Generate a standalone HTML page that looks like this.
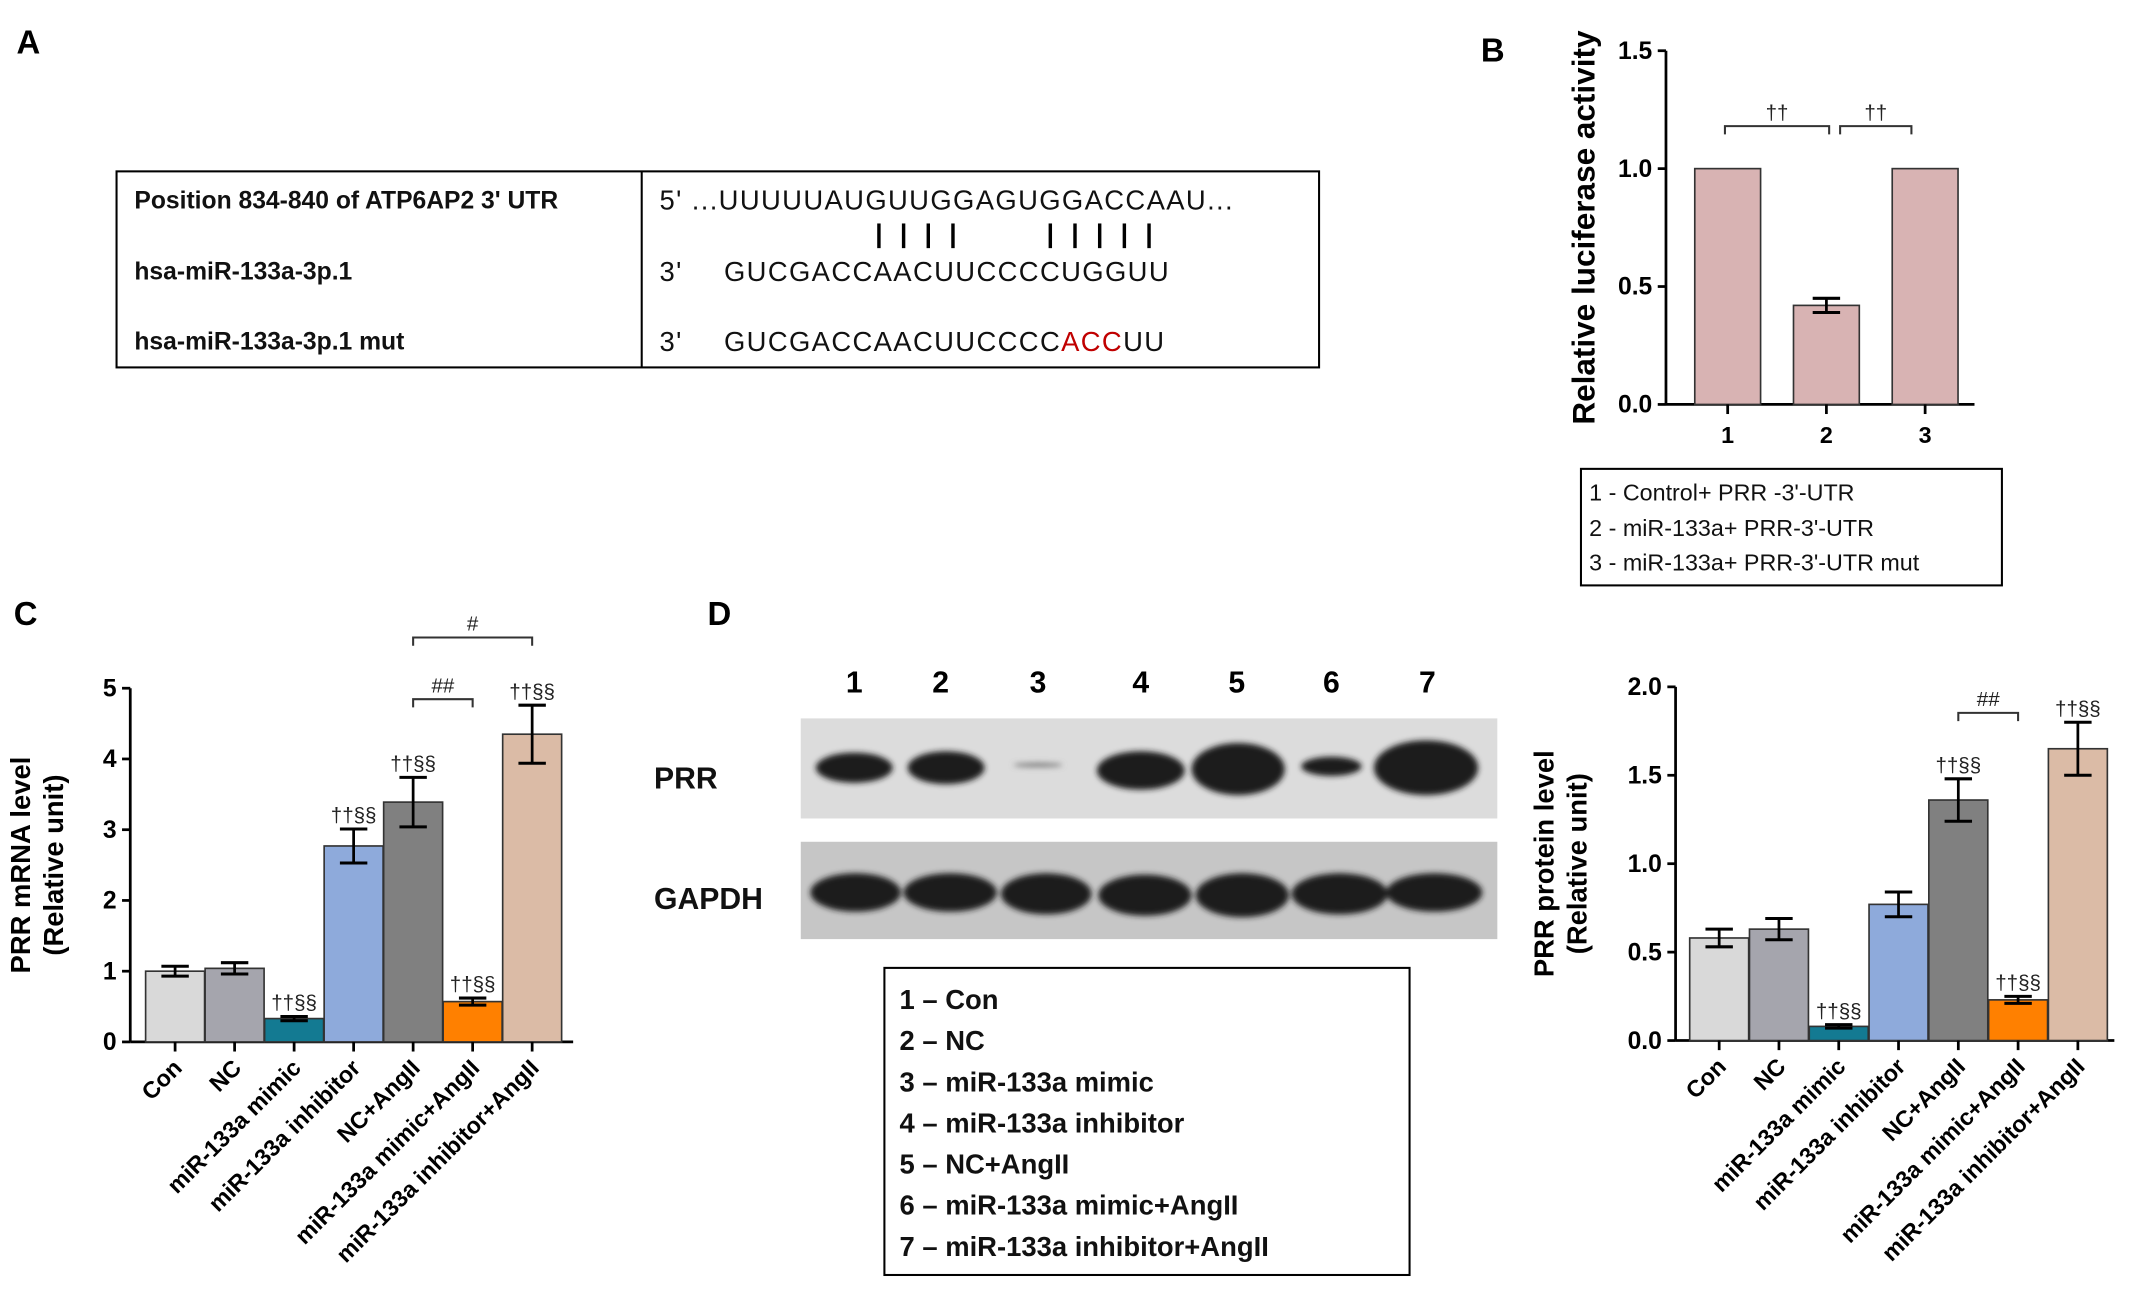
<!DOCTYPE html>
<html><head><meta charset="utf-8"><style>
html,body{margin:0;padding:0;background:#fff;}
svg{display:block;font-family:"Liberation Sans",Arial,sans-serif;}
</style></head><body>
<svg id="fig" width="2150" height="1312" viewBox="0 0 1568 957" preserveAspectRatio="none" xmlns="http://www.w3.org/2000/svg">
<defs>
<filter id="blur" x="-20%" y="-50%" width="140%" height="200%"><feGaussianBlur stdDeviation="2.2"/></filter>
</defs>
<g>
<text x="12" y="39" font-size="24" font-weight="bold">A</text>
<rect x="85" y="125" width="877" height="143" fill="none" stroke="#000" stroke-width="1.5"/>
<line x1="468" y1="125" x2="468" y2="268" stroke="#000" stroke-width="1.5"/>
<g font-size="18" font-weight="bold" fill="#111">
<text x="98" y="152">Position 834-840 of ATP6AP2 3' UTR</text>
<text x="98" y="204">hsa-miR-133a-3p.1</text>
<text x="98" y="255">hsa-miR-133a-3p.1 mut</text>
</g>
<g font-size="20" fill="#111" letter-spacing="1">
<text x="481" y="153">5' ...UUUUUAUGUUGGAGUGGACCAAU...</text>
<text x="481" y="205">3'</text><text x="528" y="205">GUCGACCAACUUCCCCUGGUU</text>
<text x="481" y="256">3'</text><text x="528" y="256">GUCGACCAACUUCCCC<tspan fill="#c00000">ACC</tspan>UU</text>
</g>
<g stroke="#000" stroke-width="2.5">
<line x1="641" y1="163" x2="641" y2="181"/><line x1="659" y1="163" x2="659" y2="181"/><line x1="677" y1="163" x2="677" y2="181"/><line x1="695" y1="163" x2="695" y2="181"/>
<line x1="766" y1="163" x2="766" y2="181"/><line x1="784" y1="163" x2="784" y2="181"/><line x1="802" y1="163" x2="802" y2="181"/><line x1="820" y1="163" x2="820" y2="181"/><line x1="838" y1="163" x2="838" y2="181"/>
</g>
</g>
<g>
<text x="1080" y="45" font-size="24" font-weight="bold">B</text>
<g id="chartB"></g>
<rect x="1153" y="342" width="307" height="85" fill="none" stroke="#000" stroke-width="1.5"/>
<g font-size="17" fill="#111">
<text x="1159" y="365">1 - Control+ PRR -3'-UTR</text>
<text x="1159" y="391">2 - miR-133a+ PRR-3'-UTR</text>
<text x="1159" y="416">3 - miR-133a+ PRR-3'-UTR mut</text>
</g>
</g>
<g>
<text x="10" y="456" font-size="24" font-weight="bold">C</text>
<g id="chartC"></g>
</g>
<g>
<text x="516" y="456" font-size="24" font-weight="bold">D</text>
<g font-size="22" font-weight="bold" text-anchor="middle">
<text x="623" y="505">1</text><text x="686" y="505">2</text><text x="757" y="505">3</text><text x="832" y="505">4</text><text x="902" y="505">5</text><text x="971" y="505">6</text><text x="1041" y="505">7</text>
</g>
<text x="477" y="575" font-size="22" font-weight="bold" fill="#111">PRR</text>
<text x="477" y="663" font-size="22" font-weight="bold" fill="#111">GAPDH</text>
<rect x="584" y="524" width="508" height="73" fill="#dcdcdc"/>
<rect x="584" y="614" width="508" height="71" fill="#c6c6c6"/>
<g filter="url(#blur)" fill="#1a1a1a">
<ellipse cx="623" cy="560" rx="28" ry="11"/><ellipse cx="690" cy="560" rx="28" ry="12"/><ellipse cx="757" cy="558" rx="18" ry="1.5" fill="#777"/>
<ellipse cx="832" cy="562" rx="32" ry="14"/><ellipse cx="903" cy="561" rx="34" ry="19"/><ellipse cx="971" cy="559" rx="22" ry="7"/><ellipse cx="1040" cy="560" rx="38" ry="20"/>
<ellipse cx="624" cy="651" rx="33" ry="14"/><ellipse cx="693" cy="651" rx="34" ry="14"/><ellipse cx="763" cy="652" rx="33" ry="15"/><ellipse cx="835" cy="653" rx="34" ry="15"/><ellipse cx="906" cy="653" rx="34" ry="16"/><ellipse cx="977" cy="652" rx="35" ry="15"/><ellipse cx="1046" cy="651" rx="35" ry="14"/>
</g>
<rect x="645" y="706" width="383" height="224" fill="none" stroke="#000" stroke-width="1.5"/>
<g font-size="20" font-weight="bold" fill="#111">
<text x="656" y="736">1 – Con</text><text x="656" y="766">2 – NC</text><text x="656" y="796">3 – miR-133a mimic</text><text x="656" y="826">4 – miR-133a inhibitor</text><text x="656" y="856">5 – NC+AngII</text><text x="656" y="886">6 – miR-133a mimic+AngII</text><text x="656" y="916">7 – miR-133a inhibitor+AngII</text>
</g>
<g id="chartD"></g>
</g>
</svg>
<script>
const NS="http://www.w3.org/2000/svg";
const bCats=["1","2","3"];
const bVals=[1.0,0.42,1.0];
const bErr=[0,0.03,0];
const bTicks=[0,0.5,1.0,1.5];
const groupCats=["Con","NC","miR-133a mimic","miR-133a inhibitor","NC+AngII","miR-133a mimic+AngII","miR-133a inhibitor+AngII"];
const cVals=[1.0,1.04,0.33,2.77,3.39,0.57,4.35];
const cErr=[0.07,0.08,0.03,0.24,0.35,0.05,0.41];
const cMarks=["","","††§§","††§§","††§§","††§§","††§§"];
const cTicks=[0,1,2,3,4,5];
const dVals=[0.58,0.63,0.08,0.77,1.36,0.23,1.65];
const dErr=[0.05,0.06,0.01,0.07,0.12,0.02,0.15];
const dMarks=["","","††§§","","††§§","††§§","††§§"];
const dTicks=[0,0.5,1.0,1.5,2.0];
const colors=["#d9d9d9","#a5a5ad","#137a92","#8eaadb","#808080","#ff8000","#dbbba6"];

function el(p,tag,attrs,txt){const e=document.createElementNS(NS,tag);for(const k in attrs)e.setAttribute(k,attrs[k]);if(txt!==undefined)e.textContent=txt;p.appendChild(e);return e;}

function barChart(g,o){
  const y=v=>o.y0-(v-o.min)/(o.max-o.min)*(o.y0-o.y1);
  const x=i=>o.xStart+o.step*(i+0.5);
  el(g,'line',{x1:o.ax,y1:o.y1,x2:o.ax,y2:o.y0,stroke:'#000','stroke-width':2});
  el(g,'line',{x1:o.ax,y1:o.y0,x2:o.xEnd,y2:o.y0,stroke:'#000','stroke-width':2});
  o.ticks.forEach(t=>{
    el(g,'line',{x1:o.ax-6,y1:y(t),x2:o.ax,y2:y(t),stroke:'#000','stroke-width':2});
    const tl=el(g,'text',{x:o.ax-10,y:y(t)+6,'font-size':18,'font-weight':'bold','text-anchor':'end'},o.tfmt(t));
    
    
  });
  o.vals.forEach((v,i)=>{
    const r=el(g,'rect',{x:x(i)-o.bw/2,y:y(v),width:o.bw,height:o.y0-y(v),fill:o.colors[i],stroke:'#333','stroke-width':1.2});
    
    
    const e=o.err[i];
    if(e>0){
      el(g,'line',{x1:x(i),y1:y(v+e),x2:x(i),y2:y(v-e),stroke:'#000','stroke-width':2});
      el(g,'line',{x1:x(i)-10,y1:y(v+e),x2:x(i)+10,y2:y(v+e),stroke:'#000','stroke-width':2.2});
      el(g,'line',{x1:x(i)-10,y1:y(v-e),x2:x(i)+10,y2:y(v-e),stroke:'#000','stroke-width':2.2});
    }
    if(o.marks&&o.marks[i]){el(g,'text',{x:x(i),y:y(v+e)-5,'font-size':15,'text-anchor':'middle',fill:'#222'},o.marks[i]);}
    el(g,'line',{x1:x(i),y1:o.y0,x2:x(i),y2:o.y0+7,stroke:'#000','stroke-width':2});
    let t;
    if(o.rot){t=el(g,'text',{x:x(i)+6,y:o.y0+20,'font-size':17,'font-weight':'bold','text-anchor':'end',transform:`rotate(-45 ${x(i)+6} ${o.y0+20})`},o.cats[i]);}
    else{t=el(g,'text',{x:x(i),y:o.y0+28,'font-size':17,'font-weight':'bold','text-anchor':'middle'},o.cats[i]);}
    
    
  });
  o.titles.forEach(tt=>{
    const t=el(g,'text',{x:tt[0],y:o.titleY,'font-size':o.tsize,'font-weight':'bold','text-anchor':'middle',transform:`rotate(-90 ${tt[0]} ${o.titleY})`},tt[1]);
    
    
  });
  (o.brackets||[]).forEach(b=>{
    const x1=x(b[0])+(b[4]||0),x2=x(b[1])-(b[4]||0),yy=b[2];
    el(g,'path',{d:`M${x1} ${yy+6}V${yy}H${x2}V${yy+6}`,fill:'none',stroke:'#333','stroke-width':1.5});
    el(g,'text',{x:(x1+x2)/2,y:yy-5,'font-size':15,'text-anchor':'middle',fill:'#222'},b[3]);
  });
  return {x,y};
}
const gB=document.getElementById('chartB');


barChart(gB,{vals:bVals,err:bErr,cats:bCats,ticks:bTicks,min:0,max:1.5,y0:295,y1:37,ax:1215,xStart:1224,step:72,xEnd:1440,bw:48,colors:["#d8b3b3","#d8b3b3","#d8b3b3"],tfmt:t=>t.toFixed(1),titles:[[1163,"Relative luciferase activity"]],titleY:166,tsize:23,brackets:[[0,1,92,"††",-2],[1,2,92,"††",10]]});
const gC=document.getElementById('chartC');


barChart(gC,{vals:cVals,err:cErr,cats:groupCats,ticks:cTicks,min:0,max:5,y0:760,y1:502,ax:95,xStart:106,step:43.4,xEnd:418,bw:43,colors:colors,marks:cMarks,rot:true,tfmt:t=>String(t),titles:[[22,"PRR mRNA level"],[46,"(Relative unit)"]],titleY:631,tsize:20,brackets:[[4,5,510,"##"],[4,6,465,"#"]]});
const gD=document.getElementById('chartD');


barChart(gD,{vals:dVals,err:dErr,cats:groupCats,ticks:dTicks,min:0,max:2,y0:759,y1:501,ax:1222,xStart:1232,step:43.6,xEnd:1542,bw:43,colors:colors,marks:dMarks,rot:true,tfmt:t=>t.toFixed(1),titles:[[1133,"PRR protein level"],[1157,"(Relative unit)"]],titleY:630,tsize:20,brackets:[[4,5,520,"##"]]});
</script>
</body></html>
